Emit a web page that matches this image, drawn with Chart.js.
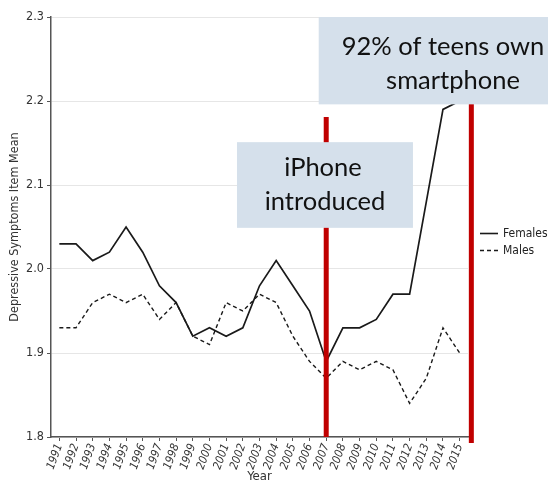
<!DOCTYPE html>
<html>
<head>
<meta charset="utf-8">
<script src="https://cdn.jsdelivr.net/npm/chart.js@4.4.1/dist/chart.umd.min.js"></script>
<style>
  html, body { margin: 0; padding: 0; background: #fff; }
  #wrap { width: 548px; height: 484px; position: relative; }
</style>
</head>
<body>
<div id="wrap"><canvas id="myChart"></canvas></div>
<script>
let years = ["1991", "1992", "1993", "1994", "1995", "1996", "1997", "1998", "1999", "2000",
  "2001", "2002", "2003", "2004", "2005", "2006", "2007", "2008", "2009", "2010",
  "2011", "2012", "2013", "2014", "2015"];
let females = [2.03, 2.03, 2.01, 2.02, 2.05, 2.02, 1.98, 1.96, 1.92, 1.93,
  1.92, 1.93, 1.98, 2.01, 1.98, 1.95, 1.89, 1.93, 1.93, 1.94,
  1.97, 1.97, 2.08, 2.19, 2.2];
let males = [1.93, 1.93, 1.96, 1.97, 1.96, 1.97, 1.94, 1.96, 1.92, 1.91,
  1.96, 1.95, 1.97, 1.96, 1.92, 1.89, 1.87, 1.89, 1.88, 1.89,
  1.88, 1.84, 1.87, 1.93, 1.9];
let seriesNames = ["Females", "Males"];
let noteIphone = ["iPhone", "introduced"];
let noteSmartphone = ["92% of teens own", "smartphone"];

const narrow = "'Liberation Sans Narrow', 'DejaVu Sans Condensed', Arial, sans-serif";
const noteFont = "Lato, 'Open Sans', sans-serif";

// red markers, callout boxes and a small line legend to the right of the plot
let notesPlugin = {
  id: "notes",
  afterDatasetsDraw(chart) {
    let ctx = chart.ctx;
    let x = chart.scales.x;
    let y = chart.scales.y;
    ctx.save();

    ctx.strokeStyle = "#c00000";
    ctx.lineWidth = 5;
    [[16, 2.181, 1.8], [24.7, 2.2, 1.793]].forEach(([pos, top, bottom]) => {
      let px = x.getPixelForValue(pos);
      ctx.beginPath();
      ctx.moveTo(px, y.getPixelForValue(top));
      ctx.lineTo(px, y.getPixelForValue(bottom));
      ctx.stroke();
    });

    let drawBox = (lines, x0, x1, yTop, yBottom, centers, shift) => {
      let left = x.getPixelForValue(x0);
      let right = x.getPixelForValue(x1);
      let top = y.getPixelForValue(yTop);
      let bottom = y.getPixelForValue(yBottom);
      ctx.fillStyle = "#d5e0eb";
      ctx.fillRect(left, top, right - left, bottom - top);
      ctx.fillStyle = "#111";
      ctx.font = "25.5px " + noteFont;
      ctx.textAlign = "center";
      ctx.textBaseline = "middle";
      let mid = (top + bottom) / 2 + shift;
      ctx.fillText(lines[0], centers[0], mid - 17);
      ctx.fillText(lines[1], centers[1], mid + 17);
    };
    drawBox(noteIphone, 10.65, 21.2, 2.151, 2.049, [323, 325], 0);
    drawBox(noteSmartphone, 15.55, 31, 2.3, 2.196, [443, 453], 3);

    // legend
    let lx = chart.chartArea.right + 12;
    let ly = chart.height / 2 - 8.5;
    ctx.font = "12px " + narrow;
    ctx.textAlign = "left";
    ctx.textBaseline = "middle";
    chart.data.datasets.forEach((ds, i) => {
      let yy = ly + i * 17;
      ctx.strokeStyle = ds.borderColor;
      ctx.lineWidth = 1.6;
      ctx.setLineDash(ds.borderDash || []);
      ctx.beginPath();
      ctx.moveTo(lx, yy);
      ctx.lineTo(lx + 18, yy);
      ctx.stroke();
      ctx.fillStyle = "#222";
      ctx.fillText(ds.label, lx + 23, yy);
    });
    ctx.setLineDash([]);

    ctx.restore();
  }
};

new Chart(document.getElementById("myChart"), {
  type: "line",
  data: {
    labels: years,
    datasets: [
      {
        label: seriesNames[0],
        data: females,
        borderColor: "#1a1a1a",
        borderWidth: 1.7,
        pointRadius: 0,
        tension: 0,
      },
      {
        label: seriesNames[1],
        data: males,
        borderColor: "#1a1a1a",
        borderWidth: 1.4,
        borderDash: [4, 3],
        pointRadius: 0,
        tension: 0,
      },
    ],
  },
  options: {
    responsive: true,
    maintainAspectRatio: false,
    animation: false,
    layout: { padding: { top: 17, left: 0, right: 80, bottom: 0 } },
    plugins: {
      tooltip: { enabled: false },
      legend: { display: false },
    },
    scales: {
      x: {
        offset: true,
        grid: { drawOnChartArea: false, tickLength: 4, tickColor: "#555" },
        border: { color: "#555", width: 1.5 },
        ticks: {
          minRotation: 70,
          maxRotation: 70,
          autoSkip: false,
          color: "#333",
          padding: 1,
          font: { family: narrow, size: 11.5, style: "italic" },
        },
        title: {
          display: true,
          text: "Year",
          color: "#333",
          padding: { top: 0, bottom: 0 },
          font: { family: narrow, size: 13 },
        },
        afterFit: (scale) => { scale.height = 47; },
      },
      y: {
        min: 1.8,
        max: 2.3,
        grid: { color: "#e6e6e6", tickLength: 4, tickColor: "#555" },
        border: { color: "#555", width: 1.5 },
        ticks: {
          stepSize: 0.1,
          color: "#333",
          padding: 3,
          font: { family: narrow, size: 12.5 },
          callback: (v) => v.toFixed(1),
        },
        title: {
          display: true,
          text: "Depressive Symptoms Item Mean",
          color: "#333",
          padding: { top: 7, bottom: 0 },
          font: { family: narrow, size: 12.5 },
        },
        afterFit: (scale) => { scale.width = 51; },
      },
    },
  },
  plugins: [notesPlugin],
});
</script>
</body>
</html>
